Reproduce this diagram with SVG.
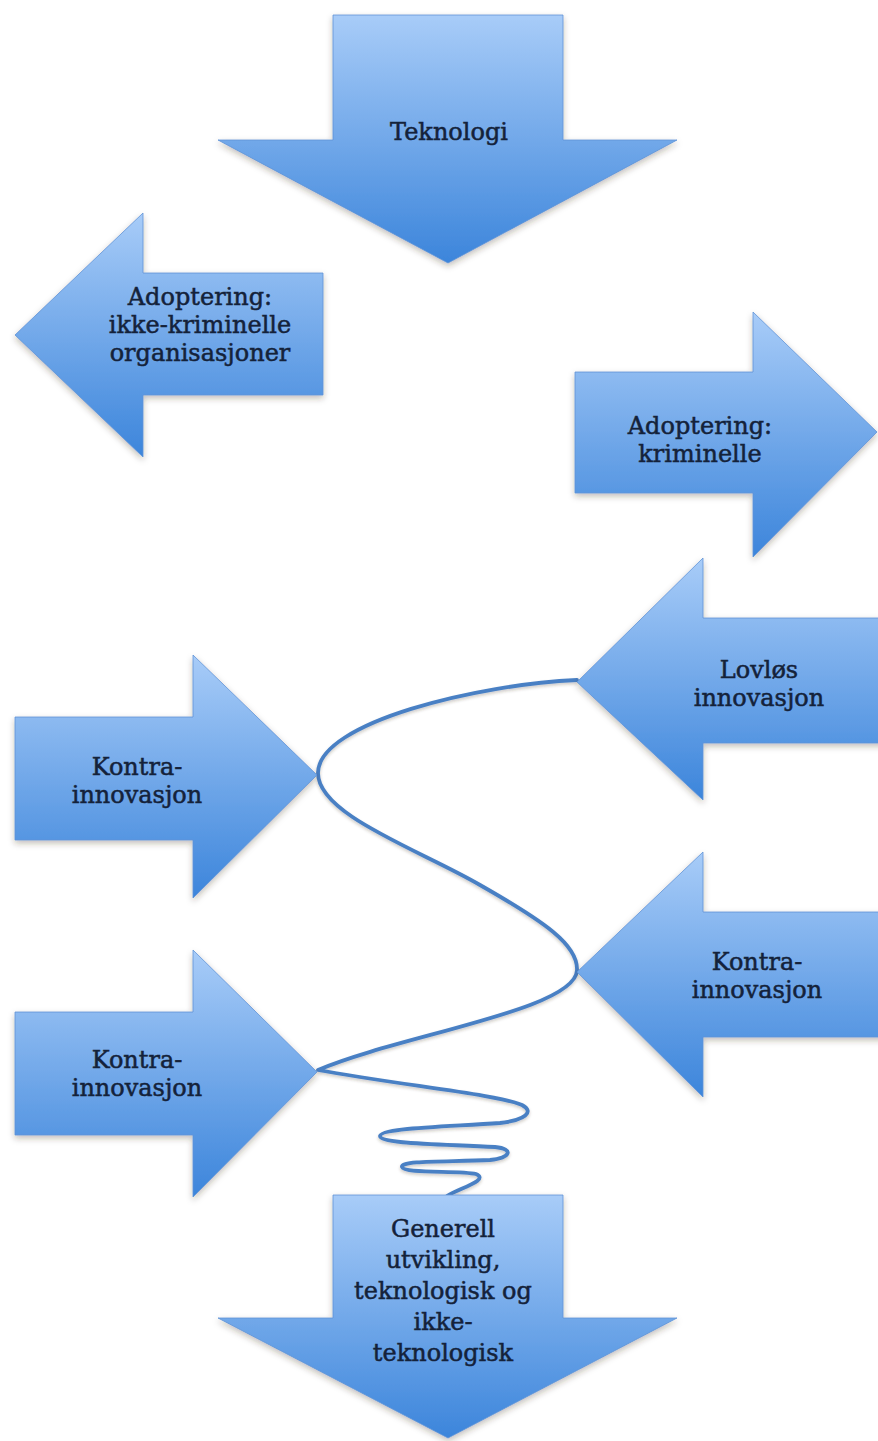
<svg xmlns="http://www.w3.org/2000/svg" width="878" height="1441" viewBox="0 0 878 1441">
<defs>
<linearGradient id="blue" x1="0" y1="0" x2="0" y2="1">
<stop offset="0" stop-color="#a8ccf8"/>
<stop offset="1" stop-color="#3c85db"/>
</linearGradient>
<filter id="shadow" x="-10%" y="-10%" width="120%" height="125%">
<feDropShadow dx="0" dy="3" stdDeviation="3" flood-color="#3a3320" flood-opacity="0.3"/>
</filter>
<filter id="lshadow" x="-10%" y="-10%" width="120%" height="120%">
<feDropShadow dx="0" dy="2" stdDeviation="1.5" flood-color="#3a3320" flood-opacity="0.25"/>
</filter>
</defs>
<style>
.arrow{fill:url(#blue);stroke:#5f93d6;stroke-width:0.8;filter:url(#shadow)}
.t{font-family:"DejaVu Serif","Liberation Serif",serif;font-size:24px;fill:#14223a;stroke:#14223a;stroke-width:0.5;text-anchor:middle}
.curve{fill:none;stroke:#4a80c4;stroke-width:3.8;stroke-linecap:round;stroke-linejoin:round;filter:url(#lshadow)}
</style>
<rect width="878" height="1441" fill="#ffffff"/>

<g id="connectors">
<path class="curve" d="M577 680 C 480 684, 318 722, 318 773 C 318 815, 420 850, 480 885 C 545 922, 578 945, 577 970 C 576 1010, 400 1035, 318 1070 C 400 1085, 500 1095, 522 1105 C 535 1112, 525 1120, 500 1123 C 440 1127, 380 1128, 380 1136 C 380 1144, 440 1144, 495 1147 C 515 1149, 510 1158, 490 1160 C 450 1162, 400 1160, 402 1167 C 404 1174, 460 1170, 476 1174 C 490 1180, 460 1188, 447 1196"/>
</g>

<g id="teknologi">
<polygon class="arrow" points="333,15 563,15 563,140 677,140 448,263 218,140 333,140"/>
<text class="t" x="449" y="140">Teknologi</text>
</g>

<g id="adopt-ikke-kriminelle">
<polygon class="arrow" points="323,273 323,395 143,395 143,457 15,335 143,213 143,273"/>
<text class="t" x="200" y="305">Adoptering:</text>
<text class="t" x="200" y="333">ikke-kriminelle</text>
<text class="t" x="200" y="361">organisasjoner</text>
</g>

<g id="adopt-kriminelle">
<polygon class="arrow" points="575,372 753,372 753,312 877,432 753,557 753,493 575,493"/>
<text class="t" x="700" y="434">Adoptering:</text>
<text class="t" x="700" y="462">kriminelle</text>
</g>

<g id="lovlos">
<polygon class="arrow" points="900,618 703,618 703,558 577,682 703,800 703,743 900,743"/>
<text class="t" x="759" y="678">Lovløs</text>
<text class="t" x="759" y="706">innovasjon</text>
</g>

<g id="kontra-1">
<polygon class="arrow" points="15,717 193,717 193,655 317,775 193,898 193,840 15,840"/>
<text class="t" x="137" y="775">Kontra-</text>
<text class="t" x="137" y="803">innovasjon</text>
</g>

<g id="kontra-2">
<polygon class="arrow" points="900,912 703,912 703,852 577,972 703,1097 703,1037 900,1037"/>
<text class="t" x="757" y="970">Kontra-</text>
<text class="t" x="757" y="998">innovasjon</text>
</g>

<g id="kontra-3">
<polygon class="arrow" points="15,1012 193,1012 193,950 317,1072 193,1197 193,1135 15,1135"/>
<text class="t" x="137" y="1068">Kontra-</text>
<text class="t" x="137" y="1096">innovasjon</text>
</g>

<g id="generell">
<polygon class="arrow" points="333,1195 563,1195 563,1318 677,1318 448,1438 218,1318 333,1318"/>
<text class="t" x="443" y="1237">Generell</text>
<text class="t" x="443" y="1268">utvikling,</text>
<text class="t" x="443" y="1299">teknologisk og</text>
<text class="t" x="443" y="1330">ikke-</text>
<text class="t" x="443" y="1361">teknologisk</text>
</g>
</svg>
